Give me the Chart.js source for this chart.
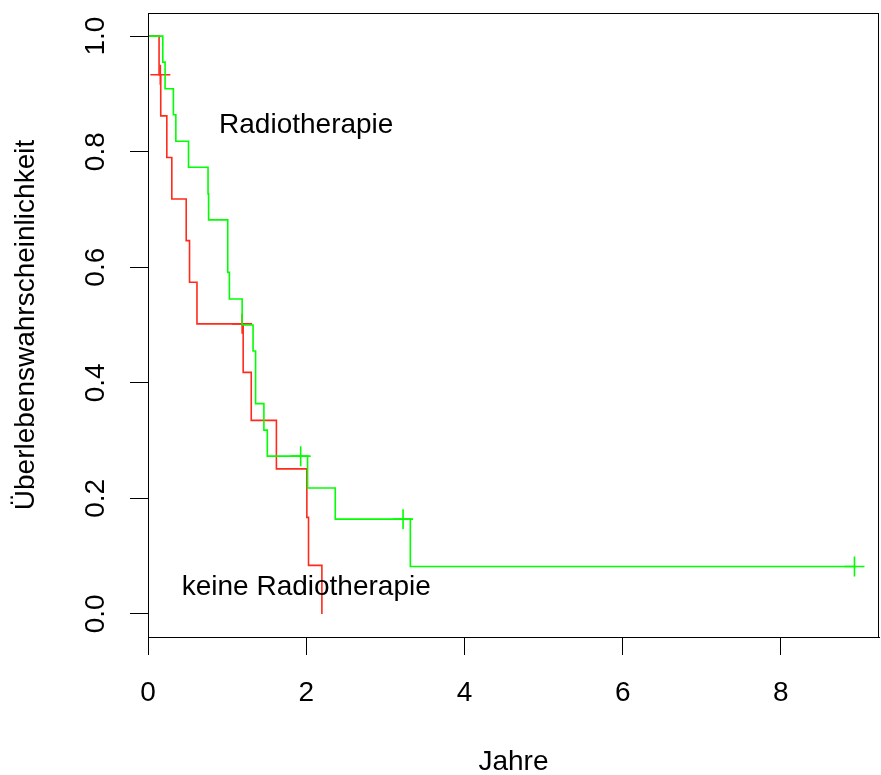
<!DOCTYPE html>
<html>
<head>
<meta charset="utf-8">
<script src="https://cdn.jsdelivr.net/npm/chart.js@4/dist/chart.umd.min.js"></script>
<style>
  html, body { margin: 0; padding: 0; background: #fff; }
  #wrap { width: 881px; height: 775px; }
</style>
</head>
<body>
<div id="wrap"><canvas id="km" width="881" height="775"></canvas></div>
<script>
// Kaplan-Meier curves, values
const radioTimes = [0, 0.187, 0.216, 0.321, 0.352, 0.512, 0.759, 0.766, 1.008, 1.029, 1.19, 1.328, 1.36, 1.465, 1.508, 2.017, 2.367, 3.316, 8.93];
const radioSurv = [1, 0.955, 0.909, 0.864, 0.818, 0.773, 0.727, 0.682, 0.591, 0.545, 0.5, 0.455, 0.364, 0.318, 0.273, 0.218, 0.164, 0.082, 0.082];
const radioCensorTimes = [1.93, 3.224, 8.93];
const radioCensorSurv = [0.273, 0.164, 0.082];

const keineTimes = [0, 0.14, 0.161, 0.238, 0.301, 0.483, 0.525, 0.619, 1.203, 1.305, 1.623, 2.008, 2.029, 2.198];
const keineSurv = [1, 0.933, 0.862, 0.790, 0.718, 0.646, 0.574, 0.502, 0.418, 0.335, 0.251, 0.167, 0.084, 0];
const keineCensorTimes = [0.156, 1.19];
const keineCensorSurv = [0.933, 0.502];

const xTicks = [0, 2, 4, 6, 8];
const yTicks = [0, 0.2, 0.4, 0.6, 0.8, 1.0];

// text() labels as in the R plot (data coordinates)
const curveNames = ['Radiotherapie', 'keine Radiotherapie'];
const curveNameX = [2, 2];
const curveNameY = [0.85, 0.05];

const FONT = '"Liberation Sans", Arial, sans-serif';
const GREEN = '#00ff00';
const RED = '#ff2a1a';

function toPoints(xs, ys) {
    return xs.map((x, i) => ({ x: x, y: ys[i] }));
}

// box, rotated y tick labels and the curve labels
const rStyle = {
    id: 'rStyle',
    afterDraw(chart) {
        const { ctx, chartArea, scales } = chart;
        ctx.save();
        ctx.strokeStyle = '#000';
        ctx.lineWidth = 1;
        ctx.strokeRect(Math.round(chartArea.left) + 0.5, Math.round(chartArea.top) + 0.5,
            Math.round(chartArea.right - chartArea.left) - 1, Math.round(chartArea.bottom - chartArea.top));

        ctx.fillStyle = '#000';
        ctx.font = '28px ' + FONT;
        ctx.textAlign = 'center';
        ctx.textBaseline = 'alphabetic';
        scales.y.ticks.forEach(t => {
            ctx.save();
            ctx.translate(scales.y.right - 44, scales.y.getPixelForValue(t.value));
            ctx.rotate(-Math.PI / 2);
            ctx.fillText(t.value.toFixed(1), 0, 0);
            ctx.restore();
        });

        curveNames.forEach((name, i) => {
            const px = scales.x.getPixelForValue(curveNameX[i]);
            const py = scales.y.getPixelForValue(curveNameY[i]);
            ctx.fillText(name, px, py + 10);
        });
        ctx.restore();
    }
};

const ctx = document.getElementById('km').getContext('2d');
new Chart(ctx, {
    type: 'line',
    data: {
        datasets: [
            {
                label: 'Radiotherapie',
                data: toPoints(radioTimes, radioSurv),
                borderColor: GREEN,
                borderWidth: 1.6,
                stepped: 'before',
                pointRadius: 0,
                fill: false,
                order: 0
            },
            {
                type: 'scatter',
                label: 'Radiotherapie zensiert',
                data: toPoints(radioCensorTimes, radioCensorSurv),
                borderColor: GREEN,
                backgroundColor: GREEN,
                pointStyle: 'cross',
                pointRadius: 10,
                borderWidth: 1.6,
                showLine: false,
                order: 0
            },
            {
                label: 'keine Radiotherapie',
                data: toPoints(keineTimes, keineSurv),
                borderColor: RED,
                borderWidth: 1.6,
                stepped: 'before',
                pointRadius: 0,
                fill: false,
                order: 1
            },
            {
                type: 'scatter',
                label: 'keine Radiotherapie zensiert',
                data: toPoints(keineCensorTimes, keineCensorSurv),
                borderColor: RED,
                backgroundColor: RED,
                pointStyle: 'cross',
                pointRadius: 10,
                borderWidth: 1.6,
                showLine: false,
                order: 1
            }
        ]
    },
    options: {
        responsive: false,
        animation: false,
        devicePixelRatio: 1,
        layout: { autoPadding: false, padding: { top: 13, right: 2, left: 0, bottom: 0 } },
        plugins: {
            legend: { display: false },
            tooltip: { enabled: false }
        },
        scales: {
            x: {
                type: 'linear',
                min: 0,
                max: 9.24,
                afterBuildTicks: s => { s.ticks = xTicks.map(v => ({ value: v })); },
                afterFit: s => { s.height = 138; s.paddingLeft = 0; s.paddingRight = 0; },
                grid: { drawOnChartArea: false, drawTicks: true, tickLength: 18, color: '#000', lineWidth: 1 },
                border: { display: true, color: '#000', width: 1 },
                ticks: {
                    color: '#000',
                    padding: 21,
                    maxRotation: 0,
                    font: { family: FONT, size: 28 },
                    callback: v => String(v)
                },
                title: {
                    display: true,
                    text: 'Jahre',
                    color: '#000',
                    font: { family: FONT, size: 28, lineHeight: 1 },
                    padding: { top: 0, bottom: -1 }
                }
            },
            y: {
                type: 'linear',
                min: -0.04,
                max: 1.04,
                afterBuildTicks: s => { s.ticks = yTicks.map(v => ({ value: v })); },
                afterFit: s => { s.width = 148; s.paddingTop = 0; s.paddingBottom = 0; },
                grid: { drawOnChartArea: false, drawTicks: true, tickLength: 18, color: '#000', lineWidth: 1 },
                border: { display: true, color: '#000', width: 1 },
                ticks: { display: false },
                title: {
                    display: true,
                    text: 'Überlebenswahrscheinlichkeit',
                    color: '#000',
                    font: { family: FONT, size: 28 },
                    padding: { top: 9, bottom: 0 }
                }
            }
        }
    },
    plugins: [rStyle]
});
</script>
</body>
</html>
